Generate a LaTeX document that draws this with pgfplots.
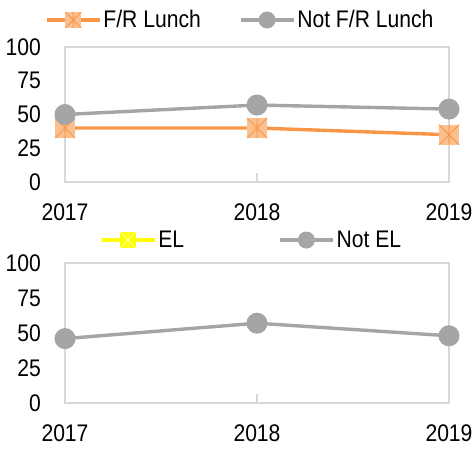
\documentclass[border=0pt]{standalone}
\usepackage{fontspec}
\setmainfont{Liberation Sans}[FakeStretch=0.88]
\usepackage{pgfplots}
\pgfplotsset{compat=1.18}
\definecolor{orng}{HTML}{F79646}
\definecolor{lorng}{HTML}{FAC090}
\definecolor{gry}{HTML}{A5A5A5}
\definecolor{frm}{HTML}{D9D9D9}
\definecolor{ylw}{HTML}{FFFF00}
\definecolor{lylw}{HTML}{FFFF80}
\pgfdeclareplotmark{sqast}{%
  \pgfpathrectangle{\pgfpoint{-\pgfplotmarksize}{-\pgfplotmarksize}}{\pgfpoint{2\pgfplotmarksize}{2\pgfplotmarksize}}%
  \pgfusepathqfill
  \pgfpathmoveto{\pgfpoint{-\pgfplotmarksize}{-\pgfplotmarksize}}%
  \pgfpathlineto{\pgfpoint{\pgfplotmarksize}{\pgfplotmarksize}}%
  \pgfpathmoveto{\pgfpoint{-\pgfplotmarksize}{\pgfplotmarksize}}%
  \pgfpathlineto{\pgfpoint{\pgfplotmarksize}{-\pgfplotmarksize}}%
  \pgfpathmoveto{\pgfpoint{0pt}{-\pgfplotmarksize}}%
  \pgfpathlineto{\pgfpoint{0pt}{\pgfplotmarksize}}%
  \pgfusepathqstroke
}
\pgfplotsset{
  myax/.style={
    scale only axis, width=384pt,
    xmin=2017, xmax=2019, ymin=0, ymax=100,
    xtick={2017,2018,2019}, xticklabels={2017,2018,2019},
    ytick={0,25,50,75,100},
    axis line style={draw=frm, line width=1.3pt},
    xtick style={draw=frm, line width=1.3pt},
    ytick style={draw=none},
    xtick pos=bottom, ytick pos=left, tick align=inside,
    major tick length=9pt,
    /pgf/number format/assume math mode=true,
    ticklabel style={font=\fontsize{24}{24}\selectfont, inner sep=0pt},
    yticklabel style={anchor=east, xshift=-24pt},
    xticklabel style={anchor=north, yshift=-22pt},
    clip=false,
    legend style={draw=none, fill=none, inner sep=0pt, outer sep=0pt,
      font=\fontsize{24}{24}\selectfont, legend columns=2,
      nodes={inner sep=2pt}, cells={anchor=west}},
    legend image code/.code={%
      \draw[mark repeat=2,mark phase=2,##1, mark size=8pt] plot coordinates {(0pt,0pt) (26.5pt,0pt) (53pt,0pt)};},
  },
  orser/.style={color=orng, line width=3.4pt, mark=sqast, mark size=10pt,
    mark options={fill=lorng, draw=orng, line width=1pt}},
  grser/.style={color=gry, line width=3.4pt, mark=*, mark size=10pt,
    mark options={fill=gry, draw=gry, line width=1pt}},
}
\begin{document}
\begin{tikzpicture}[x=1pt,y=1pt]
\useasboundingbox (0,0) rectangle (476,450);
\begin{axis}[myax, height=135pt, at={(65pt,268pt)}, anchor=south west,
  legend style={at={(-0.052,1.2)}, anchor=west,
    /tikz/every even column/.append style={column sep=36pt}}]
\addplot[orser] coordinates {(2017,40) (2018,40) (2019,35)};
\addlegendentry{F/R Lunch}
\addplot[grser] coordinates {(2017,50) (2018,57) (2019,54)};
\addlegendentry{Not F/R Lunch}
\end{axis}
\begin{axis}[myax, height=140pt, at={(65pt,47pt)}, anchor=south west,
  legend style={at={(0.091,1.164)}, anchor=west,
    /tikz/every even column/.append style={column sep=92pt}}]
\addlegendimage{color=ylw, line width=3.4pt, mark=sqast, mark size=10pt,
    mark options={fill=ylw, draw=lylw, line width=1pt}}
\addlegendentry{EL}
\addplot[grser] coordinates {(2017,46) (2018,57) (2019,48)};
\addlegendentry{Not EL}
\end{axis}
\end{tikzpicture}
\end{document}
